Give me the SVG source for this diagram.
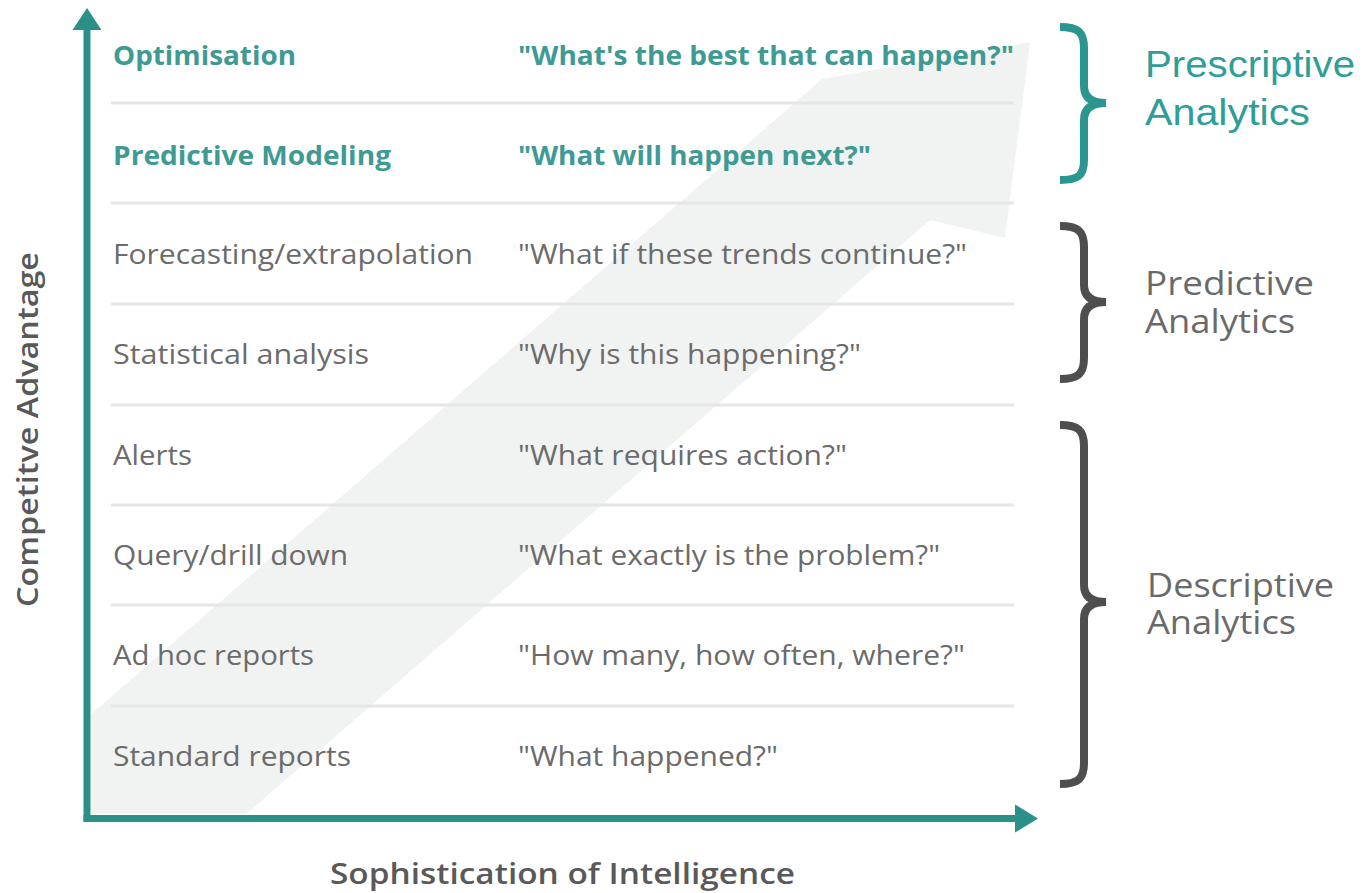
<svg xmlns="http://www.w3.org/2000/svg" width="1364" height="893" viewBox="0 0 1364 893">
<defs>
<style>
.item{font-family:"Open Sans","Noto Sans","Liberation Sans",sans-serif;font-size:27px;fill:#6b6b6b}
.hi{font-weight:bold;fill:#3e9a93}
.sep{stroke:#e6e6e6;stroke-width:3}
.axis{stroke:#2b9188;stroke-width:7;fill:none}
.head{fill:#2b9188}
.brace{fill:none;stroke-width:8}
.lab{font-family:"Open Sans","Noto Sans","Liberation Sans",sans-serif;font-size:32px;fill:#6a6a6a}
.pres{font-family:"Liberation Sans",Arial,sans-serif;font-size:37px;fill:#2e9e97}
.axlab{font-family:"Open Sans","Noto Sans","Liberation Sans",sans-serif;font-size:29px;font-weight:600;fill:#595959}
</style>
<clipPath id="plot"><rect x="91" y="0" width="1000" height="814"/></clipPath>
</defs>
<rect width="1364" height="893" fill="#ffffff"/>
<g id="band" clip-path="url(#plot)">
<polygon points="1030,42 1005,238 930,220 32,1000 -238,1000 822,79" fill="#f1f2f2"/>
</g>
<g id="separators">
<line class="sep" x1="111" y1="103" x2="1014" y2="103"/>
<line class="sep" x1="111" y1="203" x2="1014" y2="203"/>
<line class="sep" x1="111" y1="304" x2="1014" y2="304"/>
<line class="sep" x1="111" y1="405" x2="1014" y2="405"/>
<line class="sep" x1="111" y1="505" x2="1014" y2="505"/>
<line class="sep" x1="111" y1="605" x2="1014" y2="605"/>
<line class="sep" x1="111" y1="706" x2="1014" y2="706"/>
</g>
<g id="row-optimisation">
<text class="item hi" x="113" y="65" textLength="183" lengthAdjust="spacingAndGlyphs">Optimisation</text>
<text class="item hi" x="518" y="65" textLength="496" lengthAdjust="spacingAndGlyphs">"What's the best that can happen?"</text>
</g>
<g id="row-predictive-modeling">
<text class="item hi" x="113" y="165" textLength="278" lengthAdjust="spacingAndGlyphs">Predictive Modeling</text>
<text class="item hi" x="518" y="165" textLength="353" lengthAdjust="spacingAndGlyphs">"What will happen next?"</text>
</g>
<g id="row-forecasting">
<text class="item" x="113" y="264" textLength="360" lengthAdjust="spacingAndGlyphs">Forecasting/extrapolation</text>
<text class="item" x="518" y="264" textLength="449" lengthAdjust="spacingAndGlyphs">"What if these trends continue?"</text>
</g>
<g id="row-statistical">
<text class="item" x="113" y="364" textLength="256" lengthAdjust="spacingAndGlyphs">Statistical analysis</text>
<text class="item" x="518" y="364" textLength="343" lengthAdjust="spacingAndGlyphs">"Why is this happening?"</text>
</g>
<g id="row-alerts">
<text class="item" x="113" y="465" textLength="79" lengthAdjust="spacingAndGlyphs">Alerts</text>
<text class="item" x="518" y="465" textLength="329" lengthAdjust="spacingAndGlyphs">"What requires action?"</text>
</g>
<g id="row-query">
<text class="item" x="113" y="565" textLength="235" lengthAdjust="spacingAndGlyphs">Query/drill down</text>
<text class="item" x="518" y="565" textLength="422" lengthAdjust="spacingAndGlyphs">"What exactly is the problem?"</text>
</g>
<g id="row-adhoc">
<text class="item" x="113" y="665" textLength="201" lengthAdjust="spacingAndGlyphs">Ad hoc reports</text>
<text class="item" x="518" y="665" textLength="447" lengthAdjust="spacingAndGlyphs">"How many, how often, where?"</text>
</g>
<g id="row-standard">
<text class="item" x="113" y="766" textLength="238" lengthAdjust="spacingAndGlyphs">Standard reports</text>
<text class="item" x="518" y="766" textLength="260" lengthAdjust="spacingAndGlyphs">"What happened?"</text>
</g>
<g id="connectors">
<line class="axis" x1="87" y1="822" x2="87" y2="26"/>
<polygon class="head" points="87,8 72.5,30 101.5,30"/>
<line class="axis" x1="83.5" y1="818.5" x2="1017" y2="818.5"/>
<polygon class="head" points="1015,804.5 1038,818.5 1015,832.5"/>
</g>
<g id="prescriptive">
<path class="brace" stroke="#2b9690" d="M1060,27 C1078,27 1084,32 1084,48 L1084,86 C1084,97 1091,103 1106,103 C1091,103 1084,109 1084,120 L1084,160 C1084,176 1078,180 1060,180"/>
<text class="pres" x="1145" y="77"><tspan x="1145" y="77" textLength="210" lengthAdjust="spacingAndGlyphs">Prescriptive</tspan><tspan x="1145" y="125" textLength="165" lengthAdjust="spacingAndGlyphs">Analytics</tspan></text>
</g>
<g id="predictive">
<path class="brace" stroke="#4e4e4e" d="M1060,226 C1078,226 1084,231 1084,247 L1084,285 C1084,296 1091,302 1106,302 C1091,302 1084,308 1084,319 L1084,358 C1084,374 1078,379 1060,379"/>
<text class="lab" x="1145" y="295"><tspan x="1145" y="295" textLength="169" lengthAdjust="spacingAndGlyphs">Predictive</tspan><tspan x="1145" y="333" textLength="150" lengthAdjust="spacingAndGlyphs">Analytics</tspan></text>
</g>
<g id="descriptive">
<path class="brace" stroke="#4e4e4e" d="M1060,425 C1078,425 1084,430 1084,446 L1084,585 C1084,596 1091,602 1106,602 C1091,602 1084,608 1084,619 L1084,763 C1084,779 1078,784 1060,784"/>
<text class="lab" x="1147" y="597"><tspan x="1147" y="597" textLength="187" lengthAdjust="spacingAndGlyphs">Descriptive</tspan><tspan x="1147" y="634" textLength="149" lengthAdjust="spacingAndGlyphs">Analytics</tspan></text>
</g>
<g id="axis-labels">
<text class="axlab" x="330" y="884" textLength="465" lengthAdjust="spacingAndGlyphs">Sophistication of Intelligence</text>
<text class="axlab" transform="translate(38,607) rotate(-90)" x="0" y="0" textLength="355" lengthAdjust="spacingAndGlyphs">Competitve Advantage</text>
</g>
</svg>
